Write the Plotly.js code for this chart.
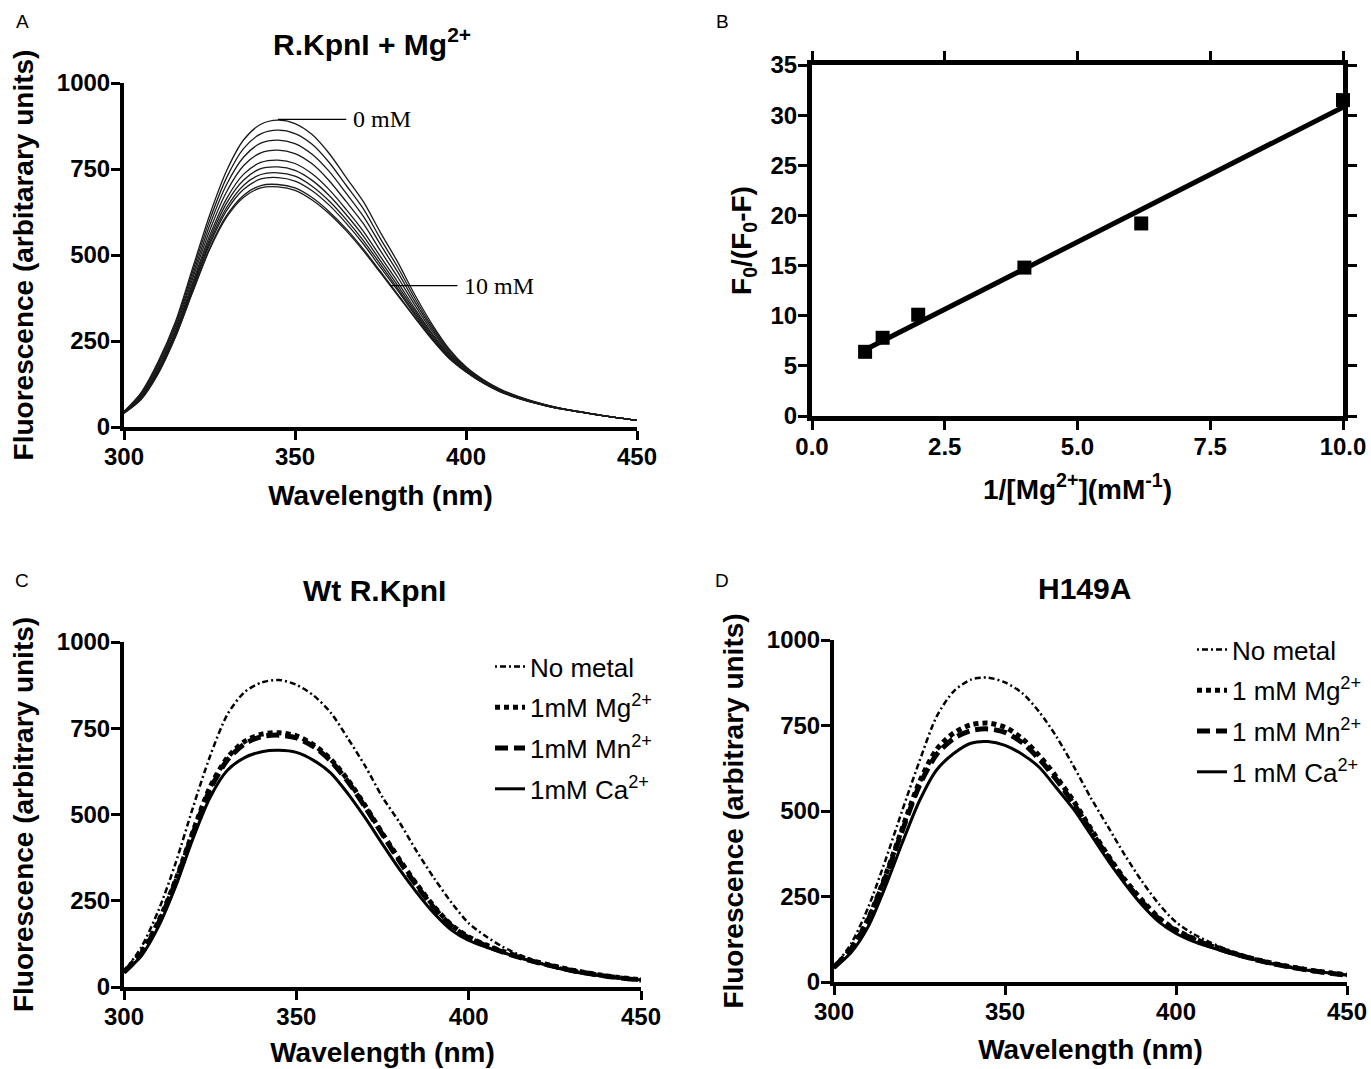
<!DOCTYPE html>
<html><head><meta charset="utf-8">
<script src="https://cdn.plot.ly/plotly-3.0.1.min.js"></script>
<style>html,body{margin:0;padding:0;background:#fff}#chart{width:1371px;height:1069px}</style>
</head><body><div id="chart"></div>
<script>
// ---------- data ----------
const wavelength = [300,305,310,315,320,325,330,335,340,345,350,355,360,365,370,375,380,385,390,395,400,405,410,415,420,425,430,435,440,445,450];

// Panel A: R.KpnI titrated with Mg2+ (0 mM ... 10 mM)
const titrationLabels = ['0 mM','step 2','step 3','step 4','step 5','step 6','step 7','step 8','step 9','10 mM'];
const titA0 = [45,100,190,305,460,615,745,835,880,892,882,850,795,725,655,565,480,385,300,228,175,138,110,90,74,61,50,42,33,26,20];
const titA1 = [44,97,185,298,450,600,725,810,852,863,853,822,769,702,634,547,465,375,293,224,173,137,109,89,73,60,50,42,33,26,20];
const titA2 = [44,94,180,292,439,585,705,785,825,834,824,793,743,679,612,530,451,365,287,220,171,135,108,88,72,60,50,42,33,26,20];
const titA3 = [43,91,174,285,429,570,684,760,797,805,795,765,716,655,591,512,436,355,280,216,168,134,107,88,72,59,50,41,33,26,20];
const titA4 = [42,88,169,278,418,555,664,735,769,776,766,736,690,632,569,495,422,345,273,212,166,132,106,87,71,59,49,41,33,26,20];
const titA5 = [42,86,166,274,411,545,651,718,751,756,746,717,673,617,555,483,412,338,269,209,165,131,105,86,71,59,49,41,33,26,20];
const titA6 = [41,84,162,269,405,536,638,703,734,739,729,700,657,603,542,473,403,332,264,206,163,130,104,86,71,58,49,41,33,26,20];
const titA7 = [41,83,160,266,400,529,629,691,721,725,715,687,645,592,532,464,397,327,261,204,162,129,104,85,70,58,49,41,33,26,20];
const titA8 = [40,81,156,262,393,519,615,674,702,705,695,667,626,576,517,452,386,320,257,201,161,128,103,85,70,58,49,41,33,26,20];
const titA9 = [40,80,155,260,390,515,610,668,695,698,688,660,620,570,512,448,383,318,255,200,160,128,102,84,70,58,49,41,33,26,20];

// Panel B: double reciprocal plot
const invMg = [1, 1.33, 2, 4, 6.2, 10];
const f0Ratio = [6.4, 7.8, 10.1, 14.8, 19.2, 31.5];
const fitX = [1, 10];
const fitY = [6.6, 30.8];

// Panel C: Wt R.KpnI
const wtNoMetal = [45,115,222,360,520,670,790,855,883,890,876,845,795,720,640,550,476,392,315,245,185,147,116,92,73,60,48,39,32,26,21];
const wtMg = [44,100,190,310,450,580,665,712,733,737,728,702,660,600,525,445,368,297,233,180,145,122,103,87,72,60,49,40,32,26,21];
const wtMn = [43,96,185,305,445,573,658,705,726,730,722,697,655,595,521,442,364,293,229,177,142,120,101,85,71,59,48,39,31,25,20];
const wtCa = [42,90,175,292,430,550,628,665,682,686,680,657,620,560,490,414,340,273,213,165,135,116,100,84,70,57,45,37,30,25,20];

// Panel D: H149A
const mutNoMetal = [45,112,218,355,503,646,776,850,884,890,876,845,790,718,632,540,456,372,295,228,175,141,116,95,78,64,52,42,34,27,21];
const mutMg = [44,98,185,310,450,585,680,728,752,757,745,712,662,600,530,450,372,300,240,188,152,128,108,90,75,62,51,42,33,27,21];
const mutMn = [43,96,182,305,443,575,665,712,735,740,730,700,652,592,522,444,367,296,236,185,150,126,106,89,74,61,50,41,33,26,20];
const mutCa = [40,86,162,278,408,530,620,668,698,703,692,666,628,568,506,432,357,288,226,176,142,119,102,86,72,60,49,40,32,26,20];

const legendC = ['No metal','1mM Mg<sup>2+</sup>','1mM Mn<sup>2+</sup>','1mM Ca<sup>2+</sup>'];
const legendD = ['No metal','1 mM Mg<sup>2+</sup>','1 mM Mn<sup>2+</sup>','1 mM Ca<sup>2+</sup>'];

// ---------- styling ----------
const FONT = 'Liberation Sans, Arial, sans-serif';
const tickFont = {family: FONT, size: 24, color: '#000', weight: 'bold'};
const titleFont = {family: FONT, size: 28, color: '#000', weight: 'bold'};
function axis(extra) {
  return Object.assign({
    showgrid: false, zeroline: false, showline: true, linecolor: '#000', linewidth: 4,
    ticks: 'outside', ticklen: 9, tickwidth: 3, tickcolor: '#000', tickfont: tickFont,
    ticklabelstandoff: -4
  }, extra);
}
const dashStyles = [
  {dash: '2px,3px,6px,3px', width: 2.5},
  {dash: '5px,4px', width: 5},
  {dash: '13px,6px', width: 5},
  {dash: 'solid', width: 3}
];

const traces = [];
const titA = [titA0,titA1,titA2,titA3,titA4,titA5,titA6,titA7,titA8,titA9];
titA.forEach((ys, i) => traces.push({
  x: wavelength, y: ys, type: 'scatter', mode: 'lines', name: titrationLabels[i],
  line: {color: '#1a1a1a', width: 1.3, shape: 'spline', smoothing: 0.8},
  xaxis: 'x', yaxis: 'y', showlegend: false
}));

traces.push({x: fitX, y: fitY, type: 'scatter', mode: 'lines', name: 'fit',
  line: {color: '#000', width: 5}, xaxis: 'x2', yaxis: 'y2', showlegend: false});
traces.push({x: invMg, y: f0Ratio, type: 'scatter', mode: 'markers', name: 'data',
  marker: {symbol: 'square', size: 14, color: '#000'}, cliponaxis: false,
  xaxis: 'x2', yaxis: 'y2', showlegend: false});

[wtNoMetal, wtMg, wtMn, wtCa].forEach((ys, i) => traces.push({
  x: wavelength, y: ys, type: 'scatter', mode: 'lines', name: legendC[i],
  line: Object.assign({color: '#000', shape: 'spline', smoothing: 0.8}, dashStyles[i]),
  xaxis: 'x3', yaxis: 'y3', legend: 'legend', legendgroup: 'c' + i
}));
[mutNoMetal, mutMg, mutMn, mutCa].forEach((ys, i) => traces.push({
  x: wavelength, y: ys, type: 'scatter', mode: 'lines', name: legendD[i],
  line: Object.assign({color: '#000', shape: 'spline', smoothing: 0.8}, dashStyles[i]),
  xaxis: 'x4', yaxis: 'y4', legend: 'legend2', legendgroup: 'd' + i
}));

const W = 1371, H = 1069;
const px = v => v / W, py = v => 1 - v / H;

const layout = {
  width: W, height: H, margin: {l: 0, r: 0, t: 0, b: 0},
  paper_bgcolor: '#fff', plot_bgcolor: '#fff', font: {family: FONT, color: '#000'},
  xaxis: axis({domain: [px(124), px(637)], range: [300, 450], dtick: 50, anchor: 'y',
    title: {text: 'Wavelength (nm)', font: titleFont, standoff: 18}}),
  yaxis: axis({domain: [py(427), py(83)], range: [0, 1000], dtick: 250, anchor: 'x',
    title: {text: 'Fluorescence (arbitarary units)', font: titleFont, standoff: 16}}),
  xaxis2: axis({domain: [px(812), px(1343)], range: [0, 10], dtick: 2.5, tickformat: '.1f', anchor: 'y2',
    mirror: 'ticks', linewidth: 5,
    title: {text: '1/[Mg<sup>2+</sup>](mM<sup>-1</sup>)', font: titleFont, standoff: 22}}),
  yaxis2: axis({domain: [py(416), py(65)], range: [0, 35], dtick: 5, anchor: 'x2',
    mirror: 'ticks', linewidth: 5,
    title: {text: 'F<sub>0</sub>/(F<sub>0</sub>-F)', font: titleFont, standoff: 12}}),
  xaxis3: axis({domain: [px(124), px(641)], range: [300, 450], dtick: 50, anchor: 'y3',
    title: {text: 'Wavelength (nm)', font: titleFont, standoff: 15}}),
  yaxis3: axis({domain: [py(987), py(642)], range: [0, 1000], dtick: 250, anchor: 'x3',
    title: {text: 'Fluorescence (arbitrary units)', font: titleFont, standoff: 16}}),
  xaxis4: axis({domain: [px(834), px(1347)], range: [300, 450], dtick: 50, anchor: 'y4',
    title: {text: 'Wavelength (nm)', font: titleFont, standoff: 17}}),
  yaxis4: axis({domain: [py(982), py(640)], range: [0, 1000], dtick: 250, anchor: 'x4',
    title: {text: 'Fluorescence (arbitrary units)', font: titleFont, standoff: 16}}),
  legend: {x: px(490), y: py(643), xanchor: 'left', yanchor: 'top', bgcolor: 'rgba(0,0,0,0)',
    font: {family: FONT, size: 26, color: '#000'}, tracegroupgap: 4},
  legend2: {x: px(1192), y: py(626), xanchor: 'left', yanchor: 'top', bgcolor: 'rgba(0,0,0,0)',
    font: {family: FONT, size: 26, color: '#000'}, tracegroupgap: 4},
  shapes: [
    {type: 'line', xref: 'x', yref: 'y', x0: 345, x1: 365, y0: 894, y1: 894, line: {color: '#000', width: 1.2}},
    {type: 'line', xref: 'x', yref: 'y', x0: 378, x1: 397.5, y0: 411, y1: 411, line: {color: '#000', width: 1.2}}
  ],
  annotations: [
    {xref: 'x', yref: 'y', x: 366.5, y: 894, text: '0 mM', showarrow: false, xanchor: 'left', yanchor: 'middle',
      font: {family: 'Liberation Serif, Times New Roman, serif', size: 24, color: '#000'}},
    {xref: 'x', yref: 'y', x: 398.8, y: 411, text: '10 mM', showarrow: false, xanchor: 'left', yanchor: 'middle',
      font: {family: 'Liberation Serif, Times New Roman, serif', size: 24, color: '#000'}},
    {xref: 'paper', yref: 'paper', x: px(372), y: py(42), text: 'R.KpnI + Mg<sup>2+</sup>', showarrow: false,
      xanchor: 'center', yanchor: 'middle', font: {family: FONT, size: 30, color: '#000', weight: 'bold'}},
    {xref: 'paper', yref: 'paper', x: px(375), y: py(590), text: 'Wt R.KpnI', showarrow: false,
      xanchor: 'center', yanchor: 'middle', font: {family: FONT, size: 30, color: '#000', weight: 'bold'}},
    {xref: 'paper', yref: 'paper', x: px(1084), y: py(588), text: 'H149A', showarrow: false,
      xanchor: 'center', yanchor: 'middle', font: {family: FONT, size: 30, color: '#000', weight: 'bold'}},
    {xref: 'paper', yref: 'paper', x: px(22), y: py(22), text: 'A', showarrow: false, xanchor: 'center', yanchor: 'middle',
      font: {family: FONT, size: 19, color: '#000'}},
    {xref: 'paper', yref: 'paper', x: px(722), y: py(22), text: 'B', showarrow: false, xanchor: 'center', yanchor: 'middle',
      font: {family: FONT, size: 19, color: '#000'}},
    {xref: 'paper', yref: 'paper', x: px(22), y: py(580), text: 'C', showarrow: false, xanchor: 'center', yanchor: 'middle',
      font: {family: FONT, size: 19, color: '#000'}},
    {xref: 'paper', yref: 'paper', x: px(722), y: py(580), text: 'D', showarrow: false, xanchor: 'center', yanchor: 'middle',
      font: {family: FONT, size: 19, color: '#000'}}
  ]
};

Plotly.newPlot('chart', traces, layout, {displayModeBar: false, staticPlot: true});
</script>
</body></html>
